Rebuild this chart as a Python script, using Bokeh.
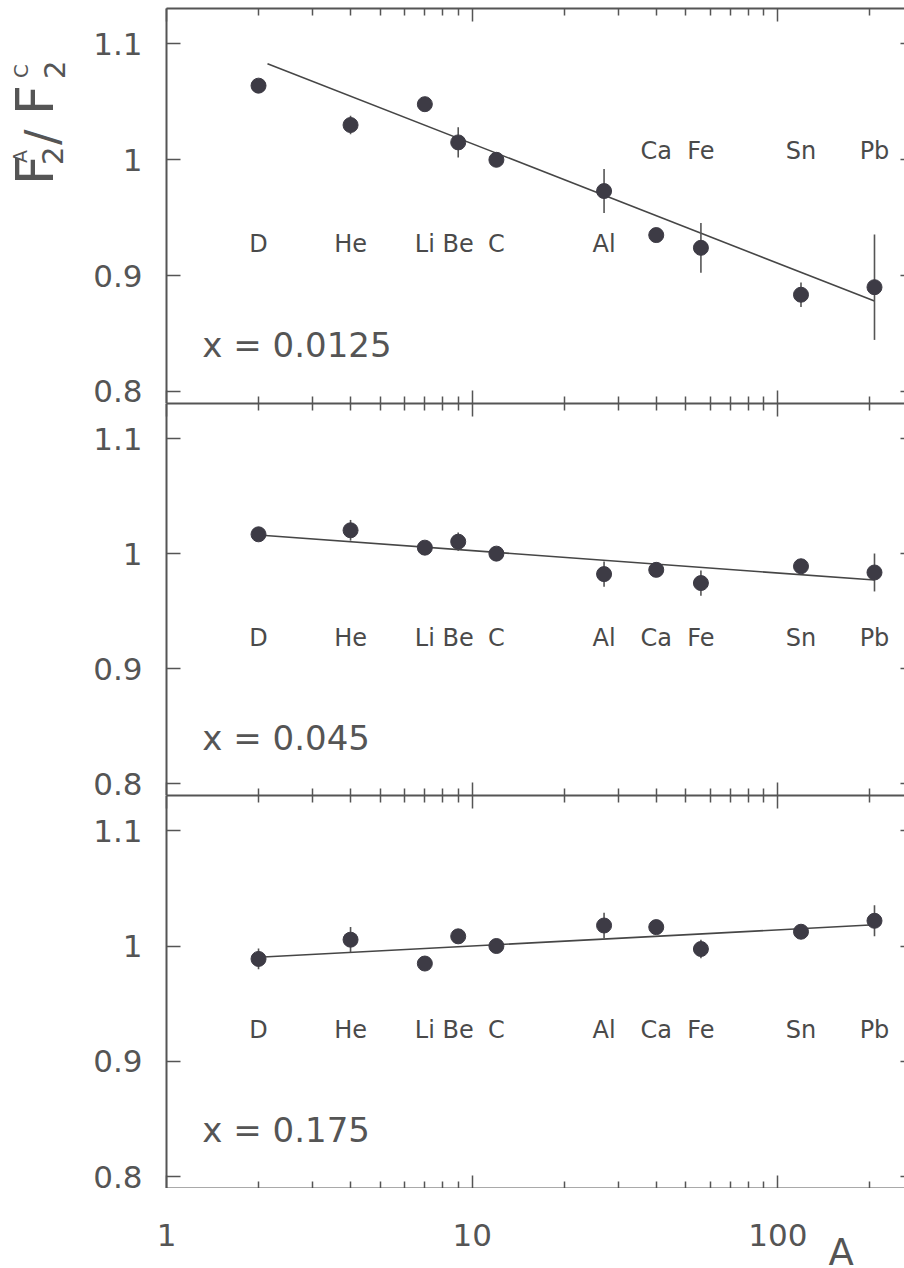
import math

from bokeh.core.properties import value
from bokeh.embed import file_html
from bokeh.layouts import column, row
from bokeh.models import (ColumnDataSource, CustomJSTickFormatter, Div, FixedTicker,
                          Label, LinearAxis, LogAxis, Range1d)
from bokeh.plotting import figure
from bokeh.resources import INLINE

# ---------------------------------------------------------------- data
nuclei = ["D", "He", "Li", "Be", "C", "Al", "Ca", "Fe", "Sn", "Pb"]
mass_number = [2, 4, 7, 9, 12, 27, 40, 56, 119, 207]

ratio_x0125 = [1.064, 1.030, 1.048, 1.015, 1.000, 0.973, 0.935, 0.924, 0.8835, 0.890]
error_x0125 = [0.004, 0.008, 0.004, 0.013, 0.003, 0.019, 0.004, 0.0215, 0.0105, 0.0455]
fit_A_x0125 = [2.14, 207]
fit_x0125 = [1.083, 0.878]
name_y_x0125 = [0.927, 0.927, 0.927, 0.927, 0.927, 0.927, 1.0076, 1.0076, 1.0076, 1.0076]

ratio_x045 = [1.0168, 1.0203, 1.0052, 1.0104, 1.000, 0.9822, 0.9859, 0.9744, 0.989, 0.9836]
error_x045 = [0.006, 0.009, 0.004, 0.008, 0.003, 0.011, 0.004, 0.011, 0.004, 0.0165]
fit_A_x045 = [2, 207]
fit_x045 = [1.0162, 0.977]
name_y_x045 = [0.927] * 10

ratio_x175 = [0.9888, 1.0055, 0.9848, 1.0084, 1.000, 1.0178, 1.0164, 0.9974, 1.0124, 1.0219]
error_x175 = [0.009, 0.011, 0.004, 0.006, 0.003, 0.011, 0.004, 0.008, 0.004, 0.0135]
fit_A_x175 = [2, 207]
fit_x175 = [0.9903, 1.0184]
name_y_x175 = [0.927] * 10

bjorken_labels = ["x = 0.0125", "x = 0.045", "x = 0.175"]

x_major_ticks = [1, 10, 100]
x_minor_ticks = [2, 3, 4, 5, 6, 7, 8, 9, 20, 30, 40, 50, 60, 70, 80, 90, 200]
x_tick_text = ["1", "10", "100"]
y_ticks = [0.8, 0.9, 1.0, 1.1]

# ---------------------------------------------------------------- style
FONT = "DejaVu Sans"
INK = "#555555"
TEXT = "#4a4a4a"
DOT = "#3d3b45"
X_MAX = 259.5
Y_LOW, Y_HIGH = 0.7896, 1.1306

PAGE_W, PAGE_H = 904, 1268
TITLE_W = 80                 # column holding the vertical axis title
PANEL_W = PAGE_W - TITLE_W
FRAME_LEFT = 166             # page x of the log axis origin (A = 1)
TOP_PAD = 8
STRIP_H = 80                 # strip under the panels: tick numbers and "A"
FRAME_H = [395, 392, 393]
DECADE_PX = (PAGE_W - FRAME_LEFT) / math.log10(X_MAX)


def free_frame(fig):
    """Keep a helper figure's frame independent of its neighbours."""
    if "frame_align" in fig.properties():
        fig.frame_align = False


def hide_labels(axis):
    axis.formatter = CustomJSTickFormatter(code="return '';")
    axis.major_label_text_font_size = "0px"
    axis.major_label_standoff = 0


def style_x_axis(axis):
    axis.ticker = FixedTicker(ticks=x_major_ticks, minor_ticks=x_minor_ticks)
    axis.axis_line_color = INK
    axis.axis_line_width = 2
    axis.major_tick_line_color = INK
    axis.major_tick_line_width = 1.5
    axis.minor_tick_line_color = INK
    axis.minor_tick_line_width = 1.5
    axis.major_tick_in = 13
    axis.major_tick_out = 0
    axis.minor_tick_in = 7
    axis.minor_tick_out = 0
    hide_labels(axis)


def build_panel(i, ratio, err, fit_A, fit_v, name_y, top):
    p = figure(width=PANEL_W, height=FRAME_H[i] + top,
               x_axis_type="log",
               x_range=Range1d(1, X_MAX), y_range=Range1d(Y_LOW, Y_HIGH),
               output_backend="svg", toolbar_location=None,
               min_border_left=FRAME_LEFT - TITLE_W, min_border_right=0,
               min_border_top=top, min_border_bottom=0)
    p.outline_line_color = None
    p.grid.visible = False
    p.background_fill_color = "white"
    p.border_fill_color = "white"

    style_x_axis(p.xaxis[0])
    top_axis = LogAxis()
    style_x_axis(top_axis)
    p.add_layout(top_axis, "above")

    yaxis = p.yaxis[0]
    yaxis.ticker = FixedTicker(ticks=y_ticks)
    yaxis.formatter = CustomJSTickFormatter(code="return String(Math.round(tick * 10) / 10);")
    yaxis.axis_line_color = INK
    yaxis.axis_line_width = 2
    yaxis.major_tick_line_color = INK
    yaxis.major_tick_line_width = 1.5
    yaxis.major_tick_in = 14
    yaxis.major_tick_out = 0
    yaxis.minor_tick_line_color = None
    yaxis.major_label_text_font = FONT
    yaxis.major_label_text_font_size = "31px"
    yaxis.major_label_text_color = INK
    yaxis.major_label_standoff = 24

    # short inward ticks on the right-hand edge
    right_axis = LinearAxis(ticker=FixedTicker(ticks=y_ticks))
    hide_labels(right_axis)
    right_axis.axis_line_color = None
    right_axis.major_tick_line_color = INK
    right_axis.major_tick_line_width = 1.5
    right_axis.major_tick_in = 4
    right_axis.major_tick_out = 0
    right_axis.minor_tick_line_color = None
    p.add_layout(right_axis, "right")

    src = ColumnDataSource(dict(
        A=mass_number, v=ratio,
        lo=[r - e for r, e in zip(ratio, err)],
        hi=[r + e for r, e in zip(ratio, err)],
        name=nuclei, name_y=name_y,
    ))

    # fitted trend in log A
    p.line(fit_A, fit_v, line_color="#464646", line_width=1.6)
    # error bars and points
    p.segment(x0="A", y0="lo", x1="A", y1="hi", source=src,
              line_color=INK, line_width=1.6)
    p.scatter(x="A", y="v", source=src, size=15,
              fill_color=DOT, line_color=DOT)
    # nucleus names
    p.text(x="A", y="name_y", text="name", source=src,
           text_font=value(FONT), text_font_size="24px",
           text_color=TEXT, text_align="center", text_baseline="middle")

    p.add_layout(Label(x=1.31, y=0.840, text=bjorken_labels[i],
                       text_font=FONT, text_font_size="34px", text_color=INK,
                       text_align="left", text_baseline="middle"))
    return p


p1 = build_panel(0, ratio_x0125, error_x0125, fit_A_x0125, fit_x0125, name_y_x0125, TOP_PAD)
p2 = build_panel(1, ratio_x045, error_x045, fit_A_x045, fit_x045, name_y_x045, 0)
p3 = build_panel(2, ratio_x175, error_x175, fit_A_x175, fit_x175, name_y_x175, 0)


# strip under the panels: tick numbers of the log axis and the axis title "A"
strip = figure(width=PANEL_W, height=STRIP_H, x_axis_type="log",
               x_range=Range1d(10 ** ((TITLE_W - FRAME_LEFT) / DECADE_PX), X_MAX),
               y_range=Range1d(0, STRIP_H),
               output_backend="svg", toolbar_location=None,
               min_border=0, min_border_left=0, min_border_right=0,
               min_border_top=0, min_border_bottom=0)
strip.axis.visible = False
strip.grid.visible = False
strip.outline_line_color = None
strip.background_fill_color = "white"
strip.border_fill_color = "white"
free_frame(strip)
strip.text(x=x_major_ticks, y=[34] * len(x_major_ticks), text=x_tick_text,
           text_font=value(FONT), text_font_size="31px", text_color=INK,
           text_align="center", text_baseline="middle")
strip.text(x=[161], y=[16], text=["A"],
           text_font=value(FONT), text_font_size="37px", text_color=INK,
           text_align="center", text_baseline="middle")

# vertical title F2^A / F2^C, read bottom-to-top (rotated HTML text)
title_parts = [  # glyph, font size, offset along the text, offset across it
    ("F", 52, 0, -1),
    ("A", 19, 22, 1),
    ("2", 29, 20, 28.5),
    ("/", 46, 40, 8.6),
    ("F", 52, 70, -1),
    ("C", 20, 107, 1),
    ("2", 29, 106, 30.5),
]
spans = "".join(
    f'<span style="position:absolute;left:{u}px;top:{v}px;'
    f'font-size:{s}px;line-height:1;">{ch}</span>'
    for ch, s, u, v in title_parts
)
title_html = (
    f'<div style="position:relative;width:{TITLE_W}px;height:{PAGE_H}px;'
    f'font-family:\'{FONT}\';color:{INK};">'
    f'<div style="position:absolute;left:10px;top:185px;width:130px;height:60px;'
    f'transform-origin:0 0;transform:rotate(-90deg);white-space:nowrap;">'
    f'{spans}</div></div>'
)
title = Div(text=title_html, width=TITLE_W, height=PAGE_H, margin=(0, 0, 0, 0))

layout = row(title, column(p1, p2, p3, strip, spacing=0), spacing=0)
open("out.html", "w").write(file_html(layout, INLINE))
